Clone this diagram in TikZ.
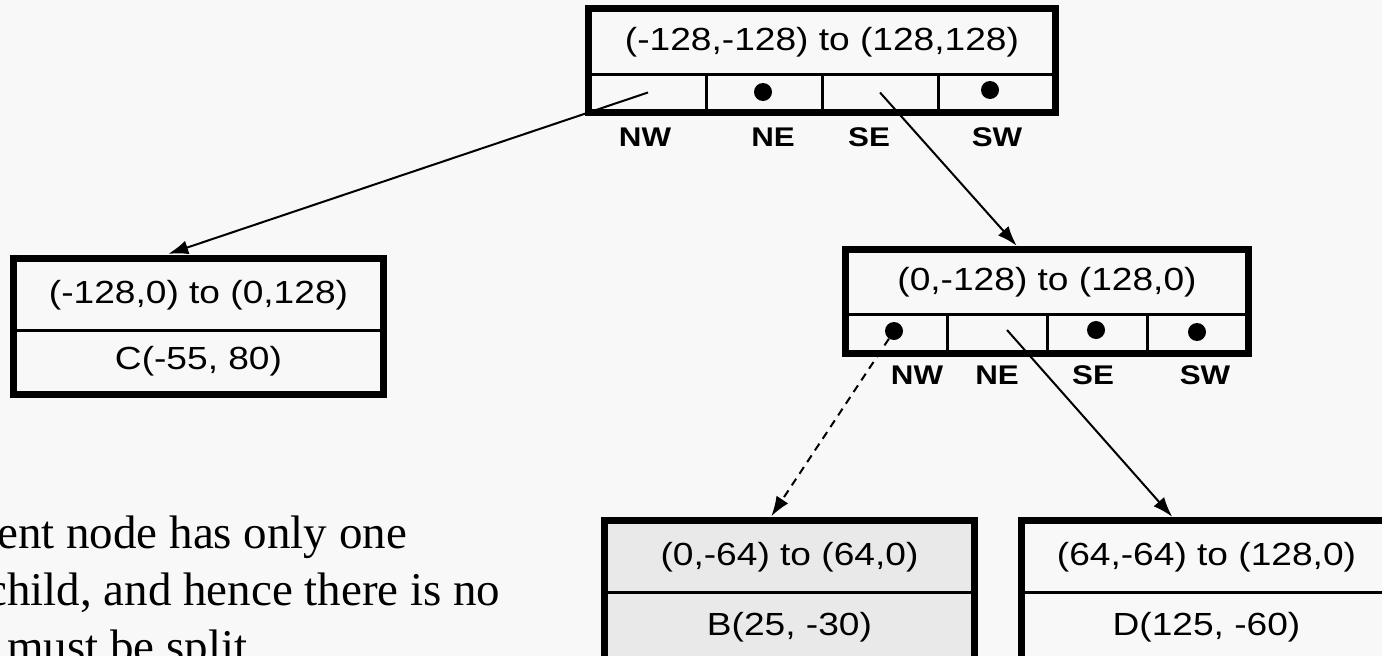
\documentclass[tikz,border=0pt]{standalone}
\usepackage{fontspec}
\setmainfont{Liberation Serif}
\newfontfamily\boxfont[FakeStretch=1.16]{Liberation Sans}
\usetikzlibrary{arrows.meta}
\definecolor{paper}{RGB}{248,248,248}
\definecolor{leafgray}{RGB}{233,233,233}
\tikzset{
  >={Latex[length=20pt,width=14pt]},
  {cell/.style} ={draw, line width=3pt, inner sep=0,
                  font=\boxfont\fontsize{32}{38}\selectfont},
  {frame/.style} ={draw, line width=7pt},
  {dot/.style} ={circle, fill=black, inner sep=0, minimum size=18pt},
  {lbl/.style} ={font=\boxfont\bfseries\fontsize{27}{30}\selectfont},
  {link/.style} ={draw, line width=2pt, ->, shorten >=5pt},
  {weak link/.style} ={link, dash pattern=on 8pt off 6pt},
  {note/.style} ={anchor=base west, inner sep=0,
                  font=\fontsize{47}{57}\selectfont},
}

\begin{document}
\begin{tikzpicture}[x=1pt,y=-1pt]
\useasboundingbox[fill=paper] (0,0) rectangle (1382,656);
% root
\node[cell, minimum width=464, minimum height=64] (rootHead) at (822,42) {(-128,-128) to (128,128)};
\node[cell, minimum width=116, minimum height=37] (rootNW) at (648,92.5) {};
\node[cell, minimum width=116, minimum height=37] (rootNE) at (764,92.5) {};
\node[cell, minimum width=116, minimum height=37] (rootSE) at (880,92.5) {};
\node[cell, minimum width=116, minimum height=37] (rootSW) at (996,92.5) {};
\draw[frame] (rootHead.north west) rectangle (rootSW.south east);
\node[dot] (dotNE1) at (763,92) {};
\node[dot] (dotSW1) at (990,90) {};
\node[lbl] (lNW1) at (645,137) {NW};
\node[lbl] (lNE1) at (773,137) {NE};
\node[lbl] (lSE1) at (869,137) {SE};
\node[lbl] (lSW1) at (997,137) {SW};
% inner node
\node[cell, minimum width=400, minimum height=63] (secHead) at (1047,282.5) {(0,-128) to (128,0)};
\node[cell, minimum width=100, minimum height=38] (secNW) at (897,333) {};
\node[cell, minimum width=100, minimum height=38] (secNE) at (997,333) {};
\node[cell, minimum width=100, minimum height=38] (secSE) at (1097,333) {};
\node[cell, minimum width=100, minimum height=38] (secSW) at (1197,333) {};
\draw[frame] (secHead.north west) rectangle (secSW.south east);
\node[dot] (dotNW2) at (894,331) {};
\node[dot] (dotSE2) at (1096,330) {};
\node[dot] (dotSW2) at (1197,332) {};
\node[lbl] (lNW2) at (917,375) {NW};
\node[lbl] (lNE2) at (997,375) {NE};
\node[lbl] (lSE2) at (1093,375) {SE};
\node[lbl] (lSW2) at (1205,375) {SW};
% leaves
\node[cell, minimum width=367, minimum height=70] (cHead) at (198.5,295) {(-128,0) to (0,128)};
\node[cell, minimum width=367, minimum height=63] (cData) at (198.5,361.5) {C(-55, 80)};
\draw[frame] (cHead.north west) rectangle (cData.south east);
\node[cell, fill=leafgray, minimum width=367, minimum height=70] (bHead) at (789.5,557) {(0,-64) to (64,0)};
\node[cell, fill=leafgray, minimum width=367, minimum height=70] (bData) at (789.5,627) {B(25, -30)};
\draw[frame] (bHead.north west) rectangle (bData.south east);
\node[cell, minimum width=367, minimum height=70] (dHead) at (1206.5,557) {(64,-64) to (128,0)};
\node[cell, minimum width=367, minimum height=70] (dData) at (1206.5,627) {D(125, -60)};
\draw[frame] (dHead.north west) rectangle (dData.south east);
% links
\path[link] (rootNW.center) -- ([xshift=-35pt,yshift=3pt]cHead.north);
\path[link] (rootSE.center) -- ([xshift=-27pt]secHead.north);
\path[weak link] (dotNW2) -- ([xshift=-21pt]bHead.north);
\path[link] ([xshift=10pt,yshift=3pt]secNE.center) -- ([xshift=-31pt]dHead.north);
% text
\node[note] (t1) at (-3,548) {ent node has only one};
\node[note] (t2) at (-14,605) {child, and hence there is no};
\node[note] (t3) at (7,662) {must be split};
\end{tikzpicture}
\end{document}
